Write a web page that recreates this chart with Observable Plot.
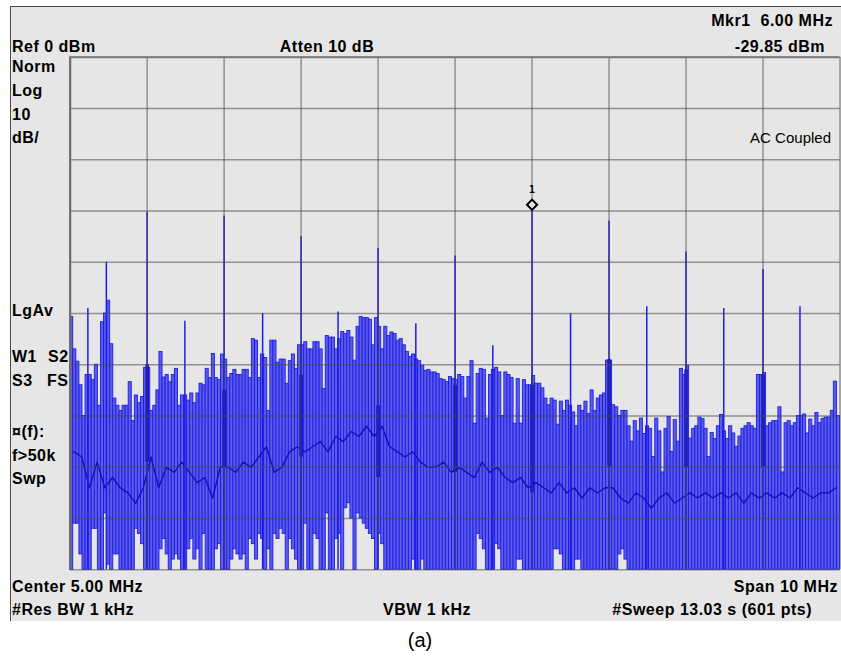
<!DOCTYPE html>
<html><head><meta charset="utf-8">
<script src="https://cdn.jsdelivr.net/npm/d3@7"></script>
<script src="https://cdn.jsdelivr.net/npm/@observablehq/plot@0.6"></script>
<style>
body{margin:0;background:#fff;}
#wrap{position:relative;width:841px;height:661px;overflow:hidden;background:#fff;font-family:"Liberation Sans",Arial,sans-serif;}
#panel{position:absolute;left:10px;top:6px;width:860px;height:614px;background:#e6e6e6;border-left:1.5px solid #4a4a4a;border-top:1.5px solid #4a4a4a;}
#chart{position:absolute;left:0;top:0;}
.t{position:absolute;color:#000;white-space:pre;line-height:1;}
</style></head><body>
<div id="wrap"><div id="panel"></div><div id="chart"></div></div>
<script>
// ---- data (frequency in MHz, level in dBm) ----
const startMHz = 0, stopMHz = 10;
const binWidth = 0.04; // MHz per comb bin
const binTop = [
  -50.7,-57,-59.4,-64,-70,-62,-62,-63,-60,-68,-51.7,-50,-47.5,-56,-66.6,-68,-69,-68,-68,-63.4,-71,-66,-67.5,-66.3,-60.6,
  -60.6,-69,-68,-65,-57.5,-62.5,-62,-63.4,-62,-60.8,-68,-66,-66,-67,-65.6,-67.5,-65.6,-63.7,-64,-60.8,-62.6,-57.9,-62.6,-63,-58,
  -59,-62.6,-61.8,-61,-62,-62,-61,-61,-62.6,-55,-55.3,-62.6,-58,-58.7,-69,-55.3,-55.3,-59.6,-59,-59,-63.7,-59.3,-58,-60.8,-56.2,
  -56.2,-55.6,-57,-57,-55.6,-55.6,-57,-64.7,-54.4,-54.7,-54.7,-57,-55,-53.6,-54,-53.4,-54.7,-59.2,-52.6,-50.7,-50.9,-50.9,-51.2,-56.2,-50.9,
  -52.6,-57,-52.6,-54.4,-53.7,-54,-55.3,-55,-56.2,-57.5,-58.5,-58,-59,-59.3,-60.2,-61.2,-61,-61.5,-61.5,-61.8,-62.8,-63,-63.4,-62.4,-62.8,
  -63,-62,-62.4,-66.6,-62.4,-59.3,-71.5,-61.8,-60.8,-61,-70.5,-62,-61,-60.6,-61.5,-70,-61.5,-62,-62.6,-71.5,-62.8,-71.5,-63,-64,-64,
  -62.2,-63.7,-63.7,-64.6,-66.6,-67.9,-66.6,-67,-71.7,-67.2,-69,-67,-68,-69.3,-72,-68,-69,-67.2,-69.6,-65,-69,-66.6,-66,-65.6,-59.2,
  -59.2,-67.9,-68.3,-70,-69,-69,-72,-75,-71,-73,-70.5,-73.5,-72,-72.5,-78,-70.5,-73,-81,-72.5,-70.2,-77,-70.8,-75,-60.8,-62,
  -60.2,-74.4,-72.5,-72,-70.3,-70.6,-72.5,-78,-73.3,-74.5,-72,-69.8,-73,-74.5,-72,-73.4,-76,-74,-72.5,-72,-71.4,-72,-72.5,-62,-62,
  -61.6,-72,-71.4,-71,-71,-68.3,-81,-71.4,-71,-72,-71.4,-70,-70,-69.7,-73.4,-70.7,-72,-69.4,-71.4,-70.6,-70.3,-70.3,-69,-63.3,-70
];
const binLow = [
  -100,-91,-91,-97,-100,-100,-100,-92,-92,-100,-100,-89,-99,-100,-97,-97,-100,-100,-100,-100,-100,-92,-93,-95,-100,
  -100,-100,-100,-100,-96,-94,-97,-100,-98,-97,-98,-100,-100,-96,-94,-98,-96,-100,-93,-100,-100,-100,-96,-95,-100,
  -100,-100,-98,-96,-97,-98,-97,-100,-94,-95,-98,-93,-94,-100,-96,-100,-93,-94,-92,-93,-100,-94,-96,-98,-100,
  -100,-91,-100,-100,-93,-94,-100,-100,-89,-100,-100,-94,-93,-100,-88,-87,-90,-100,-89,-90,-91,-92,-93,-94,-100,
  -93,-95,-100,-100,-100,-100,-100,-100,-100,-100,-100,-98,-100,-100,-98,-100,-100,-100,-100,-100,-100,-100,-100,-100,-100,
  -100,-100,-100,-100,-100,-100,-100,-93,-94,-96,-100,-100,-100,-95,-96,-100,-100,-100,-100,-100,-98,-98,-100,-100,-100,
  -100,-100,-100,-100,-100,-100,-100,-96,-96,-97,-100,-100,-100,-100,-98,-98,-100,-100,-100,-100,-100,-100,-100,-100,-100,
  -100,-100,-100,-97,-96,-98,-100,-100,-100,-100,-100,-100,-100,-100,-100,-100,-100,-100,-100,-100,-100,-100,-100,-100,-100,
  -100,-100,-100,-100,-100,-100,-100,-100,-100,-100,-100,-100,-100,-100,-100,-100,-100,-100,-100,-100,-100,-100,-100,-100,-100,
  -100,-100,-100,-100,-100,-100,-100,-100,-100,-100,-100,-100,-100,-100,-100,-100,-100,-100,-100,-100,-100,-100,-100,-100,-100
];
// averaged trace, every 0.1 MHz
const avgStep = 0.1;
const avgTrace = [
  -77,-78,-84,-79,-84,-82,-84,-85,-87,-84,
  -78,-84,-80,-81,-79,-81,-83,-82,-86,-80,
  -80,-81,-79,-80,-78,-76,-81,-80,-77,-76,
  -77,-76,-75,-77,-74,-75,-73,-74,-72,-74,
  -72,-76,-77,-78,-77,-79,-80,-80,-79,-81,
  -80,-81,-82,-79,-81,-80,-82,-83,-82,-84,
  -83,-84,-85,-83,-85,-84,-86,-84,-85,-84,
  -84,-86,-87,-85,-86,-88,-86,-85,-87,-86,
  -85,-86,-85,-86,-85,-86,-85,-87,-85,-86,
  -85,-86,-85,-86,-84,-85,-86,-85,-85,-84
];
const harmFreq = [1,2,3,4,5,6,7,8,9];
const harmPeak = [-30.3,-31,-35,-37.3,-38.8,-29.85,-32,-38,-41.4];
const harmBodyTop = [-60,-65,-62,-68,-64,-64,-59,-61,-62];
const harmBodyLow = [-79,-80,-78,-82,-81,-85,-80,-80,-80];
const spurFreq = [0.23,0.47,1.49,2.50,3.48,4.49,5.49,6.50,7.49,8.49,9.48];
const spurPeak = [-49,-40,-51.5,-50,-49.7,-52,-56.3,-50,-48.7,-49,-48.7];
const markerFreq = 6.00, markerLevel = -29.85, markerLabel = "1";
const gridMHz = [0,1,2,3,4,5,6,7,8,9,10];
const gridDb = [0,-10,-20,-30,-40,-50,-60,-70,-80,-90,-100];
const refLevel = 0, bottomLevel = -100;

// ---- build tables ----
const bins = binTop.map((t, i) => ({f: startMHz + (i + 0.5) * binWidth, top: t, low: binLow[i]}));
const avg = avgTrace.map((v, i) => ({f: i * avgStep + avgStep / 2, v}));
const harms = harmFreq.map((f, i) => ({f, peak: harmPeak[i], bt: harmBodyTop[i], bl: harmBodyLow[i]}));
const spurs = spurFreq.map((f, i) => ({f, peak: spurPeak[i]}));

const dark = "#1c1cec", light = "#5c5ce4";
const chart = Plot.plot({
  width: 845, height: 620,
  marginLeft: 70, marginRight: 1.5, marginTop: 57, marginBottom: 48,
  style: {background: "transparent", overflow: "visible"},
  x: {domain: [startMHz, stopMHz], axis: null},
  y: {domain: [bottomLevel, refLevel], axis: null},
  marks: [
    Plot.rect(bins, {x1: d => d.f - binWidth / 2, x2: d => d.f + binWidth / 2, y1: "low", y2: "top", fill: light, stroke: dark, strokeWidth: 0.9}),
    Plot.line(avg, {x: "f", y: "v", stroke: "#1010c0", strokeWidth: 1.4}),
    Plot.ruleX(spurs, {x: "f", y1: bottomLevel, y2: "peak", stroke: dark, strokeWidth: 1.5}),
    Plot.ruleX(harms, {x: "f", y1: bottomLevel, y2: "peak", stroke: dark, strokeWidth: 1.6}),
    Plot.ruleX(harms, {x: "f", y1: "bl", y2: "bt", stroke: "#0c0cd8", strokeWidth: 3.5}),
    Plot.ruleY(gridDb, {stroke: "#4a4a4a", strokeOpacity: 0.55, strokeWidth: 1.5}),
    Plot.ruleX(gridMHz, {stroke: "#4a4a4a", strokeOpacity: 0.55, strokeWidth: 1.5}),
    Plot.ruleX([startMHz], {stroke: "#6e6e6e", strokeWidth: 2.2}),
    Plot.ruleY([refLevel], {stroke: "#7a7a7a", strokeWidth: 2}),
    Plot.dot([{f: markerFreq, v: markerLevel}], {x: "f", y: "v", symbol: "diamond2", r: 4.6, stroke: "#000", strokeWidth: 2, fill: "#e6e6e6", dy: -5.5}),
    Plot.text([{f: markerFreq, v: markerLevel}], {x: "f", y: "v", text: () => markerLabel, dy: -21, fontSize: 10, fontWeight: "bold", fill: "#000", fontFamily: "DejaVu Sans Mono"})
  ]
});
document.getElementById("chart").appendChild(chart);

// ---- instrument annotations ----
const wrap = document.getElementById("wrap");
function label(txt, x, baseline, opt = {}) {
  const fs = opt.size || 16;
  const el = document.createElement("div");
  el.className = "t";
  el.textContent = txt;
  el.style.fontSize = fs + "px";
  el.style.fontWeight = opt.weight || "bold";
  el.style.letterSpacing = (opt.ls != null ? opt.ls : 0.5) + "px";
  el.style.top = (baseline - 0.8465 * fs) + "px";
  if (opt.anchor === "end") { el.style.right = (841 - x) + "px"; }
  else if (opt.anchor === "middle") { el.style.left = x + "px"; el.style.transform = "translateX(-50%)"; }
  else el.style.left = x + "px";
  wrap.appendChild(el);
}
label("Mkr1  6.00 MHz", 833, 27, {anchor: "end"});
label("Ref 0 dBm", 12, 52.5);
label("Atten 10 dB", 327, 52.5, {anchor: "middle"});
label("-29.85 dBm", 825, 53, {anchor: "end"});
label("Norm", 12, 73);
label("Log", 12, 97);
label("10", 12, 121);
label("dB/", 12, 144);
label("LgAv", 12, 317);
label("W1", 12, 363);
label("S2", 48, 363);
label("S3", 12, 387);
label("FS", 47, 387);
label("\u00a4(f):", 12, 438);
label("f>50k", 12, 462);
label("Swp", 12, 485);
label("AC Coupled", 831, 143, {size: 15, weight: "normal", anchor: "end", ls: 0});
label("Center 5.00 MHz", 12, 593);
label("Span 10 MHz", 838, 593, {anchor: "end"});
label("#Res BW 1 kHz", 12, 616);
label("VBW 1 kHz", 427, 616, {anchor: "middle"});
label("#Sweep 13.03 s (601 pts)", 812, 616, {anchor: "end"});
label("(a)", 420, 647, {size: 20, weight: "normal", anchor: "middle", ls: 0});
</script>
</body></html>
